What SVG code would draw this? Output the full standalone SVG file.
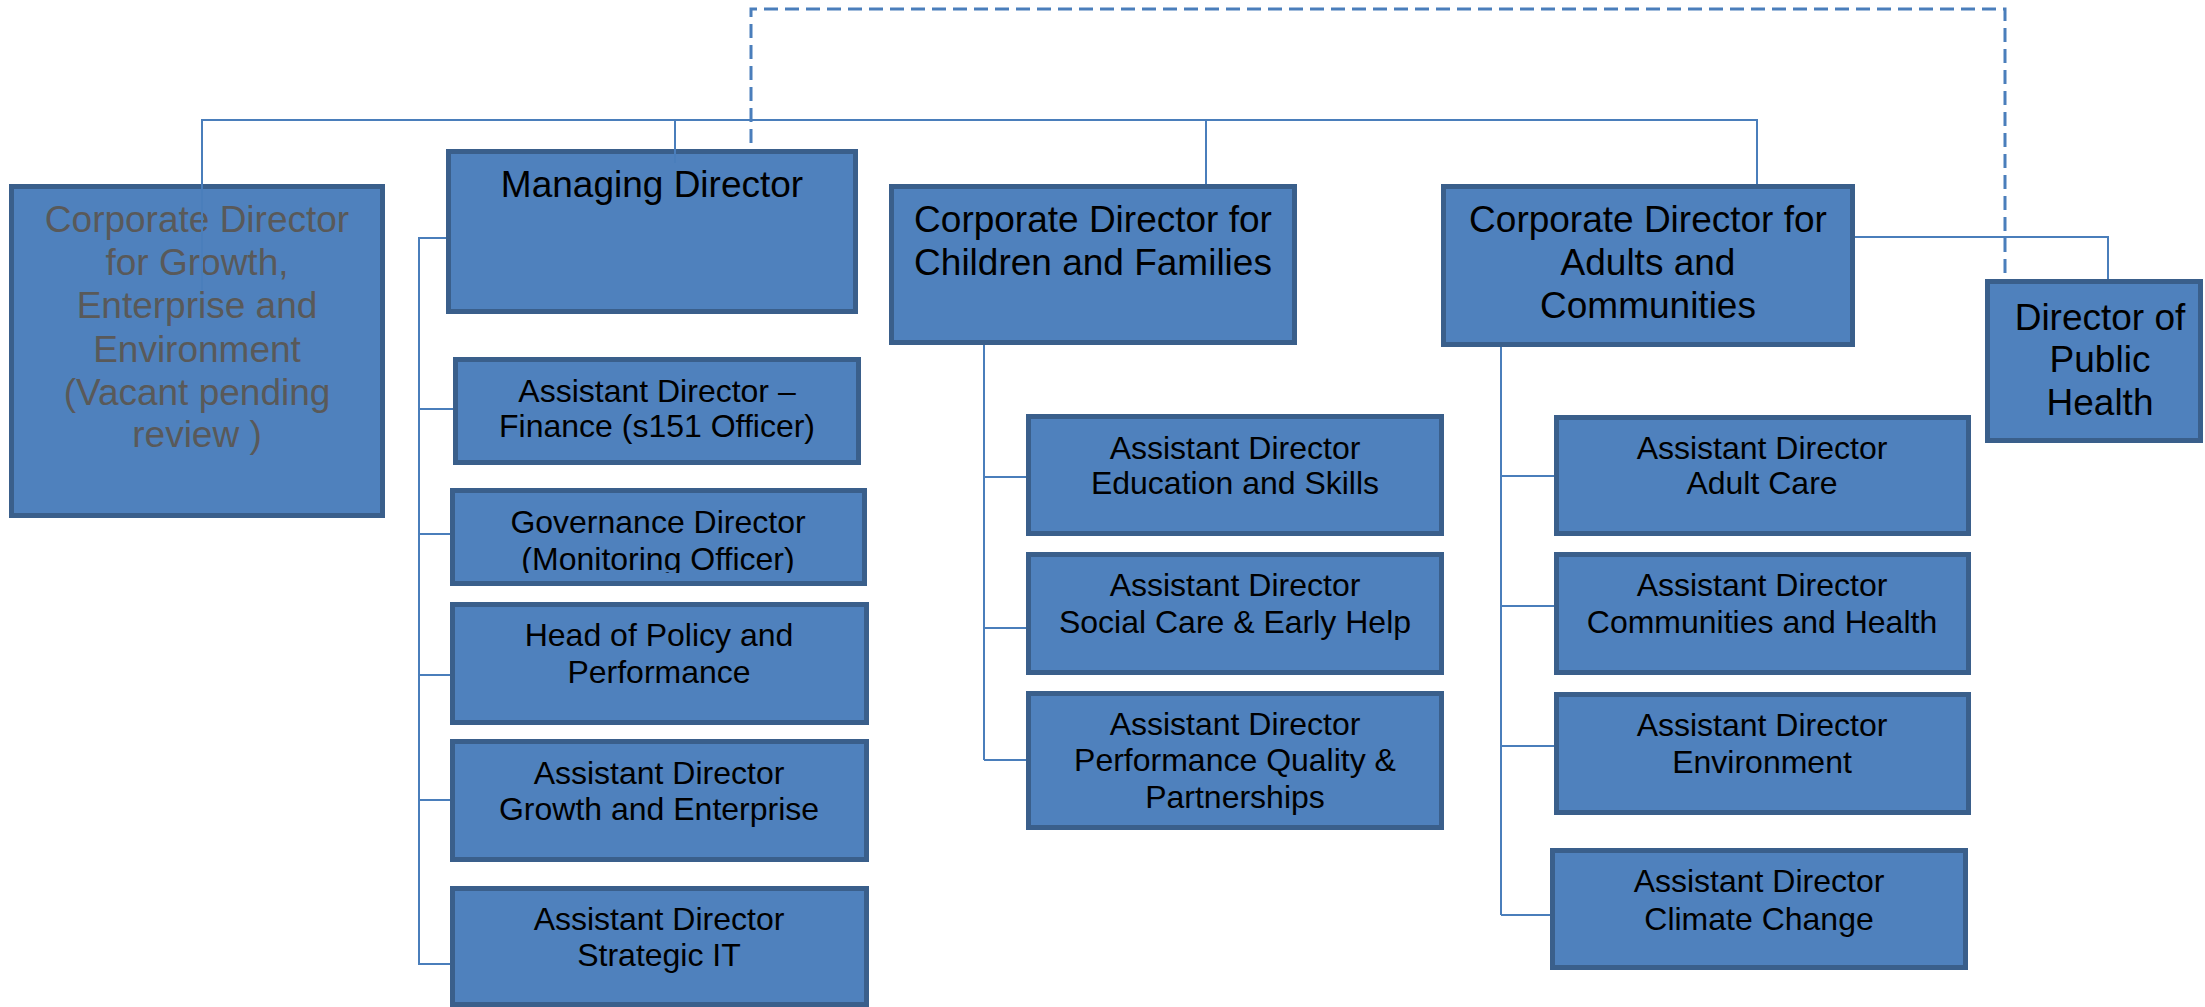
<svg xmlns="http://www.w3.org/2000/svg" width="2205" height="1007" viewBox="0 0 2205 1007">
<style>
.box{fill:#4F81BD;stroke:#3A5F8B;stroke-width:5}
.t{font-family:"Liberation Sans",Arial,sans-serif;text-anchor:middle;fill:#000}
.big{font-size:37px}
.sm{font-size:32px}
.gray{fill:#595959}
.ln{fill:none;stroke:#4A7EBB;stroke-width:2}
.dash{fill:none;stroke:#4A7EBB;stroke-width:3;stroke-dasharray:14 7}
</style>
<defs>
<clipPath id="govclip"><rect x="450" y="488" width="417" height="85"/></clipPath>
</defs>
<rect width="2205" height="1007" fill="#fff"/>
<g id="growth">
<rect class="box" x="11.5" y="186.5" width="371" height="329"/>
<text class="t big gray" x="197" y="232">Corporate Director</text>
<text class="t big gray" x="197" y="275">for Growth,</text>
<text class="t big gray" x="197" y="318">Enterprise and</text>
<text class="t big gray" x="197" y="362">Environment</text>
<text class="t big gray" x="197" y="405">(Vacant pending</text>
<text class="t big gray" x="197" y="447">review )</text>
</g>
<g id="managing">
<rect class="box" x="448.5" y="151.5" width="407" height="160"/>
<text class="t big" x="652" y="197">Managing Director</text>
</g>
<g id="children">
<rect class="box" x="891.5" y="186.5" width="403" height="156"/>
<text class="t big" x="1093" y="232">Corporate Director for</text>
<text class="t big" x="1093" y="275">Children and Families</text>
</g>
<g id="adults">
<rect class="box" x="1443.5" y="186.5" width="409" height="158"/>
<text class="t big" x="1648" y="232">Corporate Director for</text>
<text class="t big" x="1648" y="275">Adults and</text>
<text class="t big" x="1648" y="318">Communities</text>
</g>
<g id="health">
<rect class="box" x="1987.5" y="281.5" width="213" height="159"/>
<text class="t big" x="2100" y="330">Director of</text>
<text class="t big" x="2100" y="372">Public</text>
<text class="t big" x="2100" y="415">Health</text>
</g>
<g id="finance">
<rect class="box" x="455.5" y="359.5" width="403" height="103"/>
<text class="t sm" x="657" y="402">Assistant Director –</text>
<text class="t sm" x="657" y="437">Finance (s151 Officer)</text>
</g>
<g id="governance">
<rect class="box" x="452.5" y="490.5" width="412" height="93"/>
<g clip-path="url(#govclip)">
<text class="t sm" x="658" y="533">Governance Director</text>
<text class="t sm" x="658" y="570">(Monitoring Officer)</text>
</g>
</g>
<g id="policy">
<rect class="box" x="452.5" y="604.5" width="414" height="118"/>
<text class="t sm" x="659" y="646">Head of Policy and</text>
<text class="t sm" x="659" y="683">Performance</text>
</g>
<g id="growthent">
<rect class="box" x="452.5" y="741.5" width="414" height="118"/>
<text class="t sm" x="659" y="784">Assistant Director</text>
<text class="t sm" x="659" y="820">Growth and Enterprise</text>
</g>
<g id="strategicit">
<rect class="box" x="452.5" y="888.5" width="414" height="116"/>
<text class="t sm" x="659" y="930">Assistant Director</text>
<text class="t sm" x="659" y="966">Strategic IT</text>
</g>
<g id="education">
<rect class="box" x="1028.5" y="416.5" width="413" height="117"/>
<text class="t sm" x="1235" y="459">Assistant Director</text>
<text class="t sm" x="1235" y="494">Education and Skills</text>
</g>
<g id="socialcare">
<rect class="box" x="1028.5" y="554.5" width="413" height="118"/>
<text class="t sm" x="1235" y="596">Assistant Director</text>
<text class="t sm" x="1235" y="633">Social Care &amp; Early Help</text>
</g>
<g id="performance">
<rect class="box" x="1028.5" y="693.5" width="413" height="134"/>
<text class="t sm" x="1235" y="735">Assistant Director</text>
<text class="t sm" x="1235" y="771">Performance Quality &amp;</text>
<text class="t sm" x="1235" y="808">Partnerships</text>
</g>
<g id="adultcare">
<rect class="box" x="1556.5" y="417.5" width="412" height="116"/>
<text class="t sm" x="1762" y="459">Assistant Director</text>
<text class="t sm" x="1762" y="494">Adult Care</text>
</g>
<g id="communities">
<rect class="box" x="1556.5" y="554.5" width="412" height="118"/>
<text class="t sm" x="1762" y="596">Assistant Director</text>
<text class="t sm" x="1762" y="633">Communities and Health</text>
</g>
<g id="environment">
<rect class="box" x="1556.5" y="694.5" width="412" height="118"/>
<text class="t sm" x="1762" y="736">Assistant Director</text>
<text class="t sm" x="1762" y="773">Environment</text>
</g>
<g id="climate">
<rect class="box" x="1552.5" y="850.5" width="413" height="117"/>
<text class="t sm" x="1759" y="892">Assistant Director</text>
<text class="t sm" x="1759" y="930">Climate Change</text>
</g>
<g id="connectors">
<path class="ln" d="M202,290 V120 H1757 V184"/>
<path class="ln" d="M675,120 V163"/>
<path class="ln" d="M1206,120 V184"/>
<path class="ln" d="M1855,237 H2108 V279"/>
<path class="dash" d="M751,143 V9 H2005 V279"/>
<path class="ln" d="M446,238 H419 V965"/>
<path class="ln" d="M419,409 H453 M419,534 H450 M419,675 H450 M419,800 H450 M419,964 H450"/>
<path class="ln" d="M984,345 V760"/>
<path class="ln" d="M984,477 H1026 M984,628 H1026 M984,760 H1026"/>
<path class="ln" d="M1501,347 V915"/>
<path class="ln" d="M1501,476 H1554 M1501,606 H1554 M1501,746 H1554 M1501,915 H1550"/>
</g>
</svg>
